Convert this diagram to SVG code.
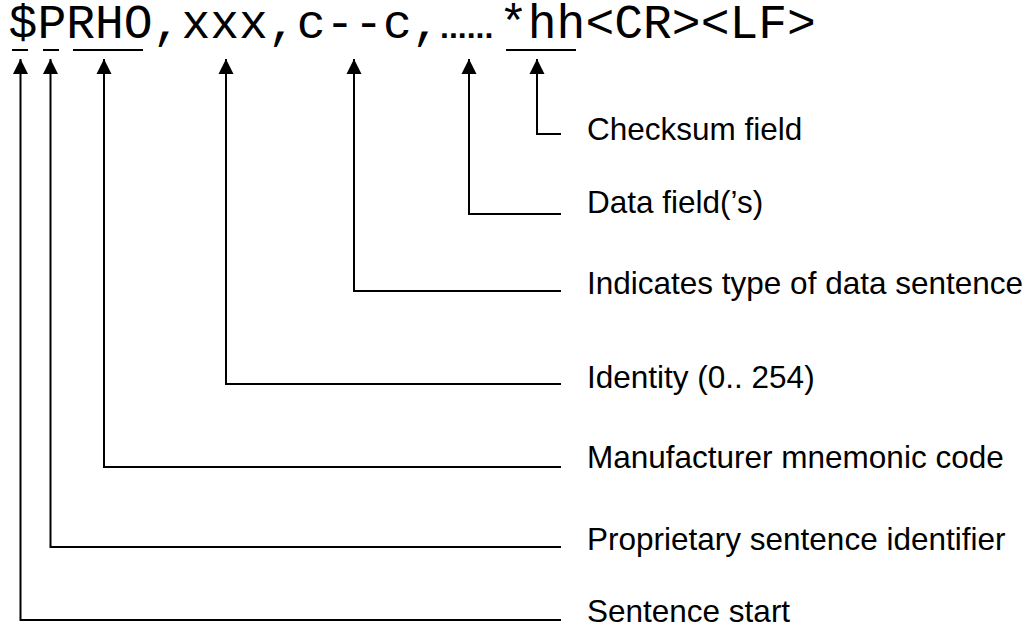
<svg xmlns="http://www.w3.org/2000/svg" width="1033" height="627" viewBox="0 0 1033 627">
<style>
.mono{font-family:"Liberation Mono","Courier New",monospace;font-size:48px;fill:#000}
.dots{font-family:"Liberation Sans",Arial,sans-serif;font-size:32px;font-weight:bold;fill:#000}
.lbl{font-family:"Liberation Sans",Arial,sans-serif;font-size:31.5px;fill:#000}
.ul{stroke:#000;stroke-width:2;fill:none}
.conn{stroke:#000;stroke-width:2;fill:none;marker-end:url(#arr)}
</style>
<defs>
<marker id="arr" markerUnits="userSpaceOnUse" markerWidth="16" markerHeight="16" viewBox="0 0 16 16" refX="15" refY="8" orient="auto">
<path d="M0,0.5 L15,8 L0,15.5 Z" fill="#000"/>
</marker>
</defs>
<rect width="1033" height="627" fill="#fff"/>
<g id="sentence">
<text class="mono" x="8.6" y="38">$PRHO,xxx,c--c,</text>
<text class="dots" x="440" y="38">......</text>
<text class="mono" x="499" y="38">*hh&lt;CR&gt;&lt;LF&gt;</text>
<line class="ul" x1="12" y1="50" x2="28" y2="50"/>
<line class="ul" x1="43" y1="50" x2="59" y2="50"/>
<line class="ul" x1="73" y1="50" x2="143" y2="50"/>
<line class="ul" x1="506" y1="50" x2="576" y2="50"/>
</g>
<g id="connectors">
<path class="conn" d="M561,134 H537 V59"/>
<path class="conn" d="M561,214 H469 V59"/>
<path class="conn" d="M561,291 H354 V59"/>
<path class="conn" d="M561,384 H226 V59"/>
<path class="conn" d="M561,467 H104 V59"/>
<path class="conn" d="M561,547 H50.5 V59"/>
<path class="conn" d="M561,620 H20.5 V59"/>
</g>
<g id="label-checksum"><text class="lbl" x="587" y="139.5">Checksum field</text></g>
<g id="label-data"><text class="lbl" x="587" y="213">Data field(’s)</text></g>
<g id="label-type"><text class="lbl" x="587" y="294">Indicates type of data sentence</text></g>
<g id="label-identity"><text class="lbl" x="587" y="388">Identity (0.. 254)</text></g>
<g id="label-manufacturer"><text class="lbl" x="587" y="468">Manufacturer mnemonic code</text></g>
<g id="label-proprietary"><text class="lbl" x="587" y="550">Proprietary sentence identifier</text></g>
<g id="label-start"><text class="lbl" x="587" y="622">Sentence start</text></g>
</svg>
